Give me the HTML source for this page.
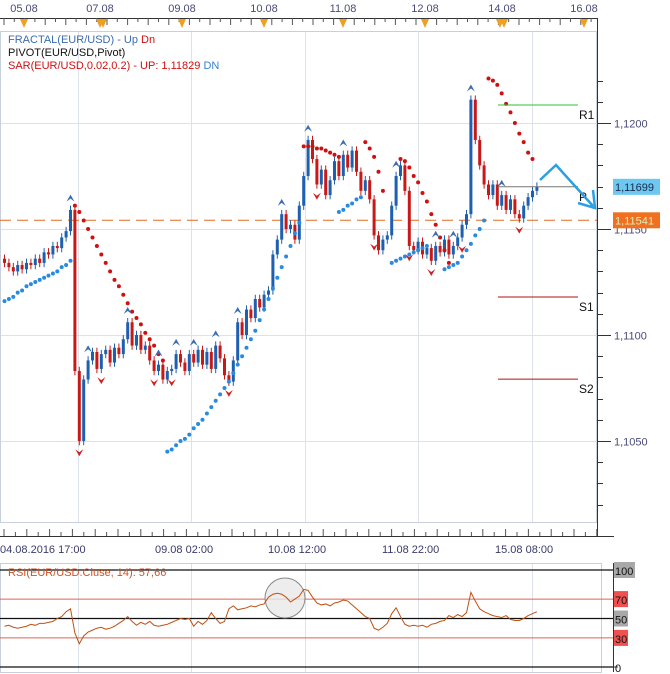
<!DOCTYPE html>
<html><head><meta charset="utf-8"><style>
html,body{margin:0;padding:0;background:#fff;}
svg{display:block;font-family:"Liberation Sans",sans-serif;}
</style></head><body>
<svg id="chart" width="670" height="674" viewBox="0 0 670 674" xmlns="http://www.w3.org/2000/svg">
<g id="static">
  <!-- top date axis -->
  <g font-size="11" fill="#4a4a7a">
    <text x="24" y="12" text-anchor="middle">05.08</text>
    <text x="100" y="12" text-anchor="middle">07.08</text>
    <text x="182" y="12" text-anchor="middle">09.08</text>
    <text x="264" y="12" text-anchor="middle">10.08</text>
    <text x="343" y="12" text-anchor="middle">11.08</text>
    <text x="425" y="12" text-anchor="middle">12.08</text>
    <text x="502" y="12" text-anchor="middle">14.08</text>
    <text x="584" y="12" text-anchor="middle">16.08</text>
  </g>
  <line x1="0" y1="18.5" x2="598" y2="18.5" stroke="#333"/>
  <g id="topticks" stroke="#555"></g>
  <g id="toptri" fill="#f0a020"></g>
  <!-- main frame -->
  <rect x="0.5" y="31.5" width="596" height="491" fill="#fff" stroke="#c8d0dc"/>
  <g id="grid" stroke="#dde2ea"></g>
  <line x1="597.5" y1="18" x2="597.5" y2="537" stroke="#333"/>
  <line x1="0" y1="536.5" x2="614" y2="536.5" stroke="#333"/>
  <g id="bottomticks" stroke="#555"></g>
  <g font-size="11" fill="#3a3a6a">
    <text x="0" y="553">04.08.2016 17:00</text>
    <text x="155" y="553">09.08 02:00</text>
    <text x="268" y="553">10.08 12:00</text>
    <text x="382" y="553">11.08 22:00</text>
    <text x="495" y="553">15.08 08:00</text>
  </g>
  <g id="priceaxis" font-size="11" fill="#4a4a7a"></g>
</g>
<g id="marks"></g>
<g id="legend" font-size="11">
  <text x="8" y="43" fill="#3a6cb0">FRACTAL(EUR/USD) -  Up <tspan fill="#d01010">Dn</tspan></text>
  <text x="8" y="56" fill="#111">PIVOT(EUR/USD,Pivot)</text>
  <text x="8" y="69" fill="#d01010">SAR(EUR/USD,0.02,0.2) -  UP: 1,11829  <tspan fill="#3a80d0">DN</tspan></text>
</g>
<!-- RSI panel -->
<g id="rsipanel">
  <rect x="0.5" y="563.5" width="601" height="109" fill="#fff" stroke="#c8d0dc"/>
  <g id="rsigrid" stroke="#dde2ea"></g>
  <line x1="613.5" y1="563" x2="613.5" y2="672" stroke="#333"/>
  <g id="rsilevels"></g>
  <ellipse cx="285" cy="598" rx="20" ry="20" fill="#e8e8e8" fill-opacity="0.8" stroke="#888"/>
  <text x="8" y="576" font-size="11" fill="#d05020">RSI(EUR/USD.Cluse, 14): 57,66</text>
</g>
</svg>
<script>
// ---- data ----
const closes = [1.1134,1.1132,1.1130,1.1133,1.1131,1.1134,1.1133,1.1136,1.1134,1.1139,1.1138,1.1142,1.1141,1.1146,1.1149,1.1159,1.1083,1.1050,1.1079,1.1088,1.1092,1.1084,1.1091,1.1093,1.1087,1.1094,1.1091,1.1098,1.1106,1.1095,1.1100,1.1093,1.1095,1.1088,1.1083,1.1086,1.1079,1.1083,1.1084,1.1091,1.1087,1.1083,1.1091,1.1087,1.1093,1.1086,1.1092,1.1084,1.1095,1.1089,1.1081,1.1078,1.1088,1.1106,1.1100,1.1112,1.1108,1.1117,1.1113,1.1119,1.1121,1.1138,1.1145,1.1157,1.1150,1.1152,1.1145,1.1161,1.1175,1.1192,1.1183,1.1171,1.1178,1.1166,1.1173,1.1182,1.1175,1.1185,1.1179,1.1187,1.1177,1.1168,1.1173,1.1164,1.1147,1.1140,1.1145,1.1147,1.1161,1.1175,1.1180,1.1168,1.1142,1.1140,1.1144,1.1138,1.1141,1.1135,1.1142,1.1139,1.1145,1.1138,1.1142,1.1146,1.1152,1.1157,1.1211,1.1192,1.1180,1.1171,1.1166,1.1171,1.1161,1.1166,1.1159,1.1164,1.1157,1.1155,1.1161,1.1165,1.1168,1.1170];
const openFirst = 1.1136;
const sarBlue0 = {start:0, values:[1.1116,1.1117,1.1118,1.1120,1.1121,1.1123,1.1124,1.1125,1.1126,1.1127,1.1128,1.1129,1.1130,1.1132,1.1133,1.1135]};
const sarRed1 = {start:16, values:[1.1161,1.1158,1.1154,1.1150,1.1146,1.1142,1.1138,1.1134,1.1130,1.1126,1.1123,1.1119,1.1115,1.1111,1.1108,1.1105,1.1101,1.1098,1.1095,1.1091,1.1088]};
const sarBlue1 = {start:37, values:[1.1045,1.1046,1.1048,1.1050,1.1051,1.1053,1.1056,1.1058,1.1060,1.1063,1.1066,1.1069,1.1072,1.1075,1.1078,1.1082,1.1086,1.1090,1.1094,1.1098,1.1102,1.1107,1.1112,1.1117,1.1122,1.1127,1.1132,1.1137,1.1142,1.1148,1.1153]};
const sarRed2 = {start:68, values:[1.1189,1.1189,1.1189,1.1188,1.1188,1.1187,1.1186,1.1185,1.1184]};
const sarBlue2 = {start:76, values:[1.1158,1.1159,1.1161,1.1162,1.1164,1.1165]};
const sarRed3 = {start:82, values:[1.1191,1.1188,1.1184,1.1177,1.1168]};
const sarBlue3 = {start:88, values:[1.1134,1.1135,1.1136,1.1137,1.1138,1.1139,1.1140,1.1141,1.1142]};
const sarRed4 = {start:90, values:[1.1183,1.1182,1.1179,1.1175,1.1172,1.1167,1.1163,1.1157,1.1152,1.1146,1.1140,1.1134]};
const sarBlue4 = {start:100, values:[1.1131,1.1132,1.1133,1.1134,1.1137,1.1140,1.1143,1.1147,1.1150,1.1154]};
const sarRed5 = {start:110, values:[1.1221,1.1220,1.1218,1.1214,1.1209,1.1205,1.1200,1.1195,1.1191,1.1186,1.1183]};
const fractalUp = [15,19,28,35,39,43,48,53,63,69,77,89,98,102,106,113];
const fractalDn = [17,22,34,38,51,71,84,92,97,104,117];
const pivotNames = ["R1","P","S1","S2"];
const pivotValues = [1.12085,1.11699,1.11179,1.10792];
const priceTicks = [1.1200,1.1150,1.1100,1.1050];
const priceTickLabels = ["1,1200","1,1150","1,1100","1,1050"];
const lastPrice = 1.11699;
const refPrice = 1.11541;
const rsiValues = [42,43,41,40,41,42,44,43,45,45,46,47,50,52,57,60,35,24,32,36,38,40,41,39,40,42,45,48,52,47,43,46,44,47,43,42,43,44,46,48,50,49,50,42,47,44,48,56,50,45,47,60,63,59,60,61,63,62,64,65,72,75,76,75,72,67,70,73,80,79,72,66,64,65,63,66,67,69,68,64,60,56,52,50,40,38,41,45,55,61,52,44,42,43,42,43,41,44,45,47,48,53,51,54,52,56,77,68,60,57,55,53,52,51,53,49,48,48,50,53,55,57];
const rsiLevels = [100,70,50,30,0];

// ---- scales ----
const NS="http://www.w3.org/2000/svg";
function xOf(i){return 3+i*4.4;}
function yOf(p){return 123+(1.12-p)*21200;}
function rsiY(v){return 667-v*0.97;}
function mk(tag,attrs,parent){const e=document.createElementNS(NS,tag);for(const k in attrs)e.setAttribute(k,attrs[k]);parent.appendChild(e);return e;}
const marks=document.getElementById('marks');

// ticks & grid
const tt=document.getElementById('topticks');
for(let x=4;x<598;x+=10.3){mk('line',{x1:x,y1:18,x2:x,y2:(Math.round(x/10.3)%2?22:25)},tt);}
const tri=document.getElementById('toptri');
[24,100,103,182,264,343,425,500,504,584].forEach(x=>{const t=mk('polygon',{points:`${x-4},19 ${x+4},19 ${x},28`},tri);

});
const bt=document.getElementById('bottomticks');
for(let x=4;x<598;x+=11.4){mk('line',{x1:x,y1:536,x2:x,y2:(Math.round(x/11.4)%2?532:529)},bt);}
const grid=document.getElementById('grid'), rg=document.getElementById('rsigrid');
[78,191,305,418,532].forEach(x=>{mk('line',{x1:x+.5,y1:32,x2:x+.5,y2:522},grid);mk('line',{x1:x+.5,y1:564,x2:x+.5,y2:672},rg);});
const pa=document.getElementById('priceaxis');
priceTicks.forEach((p,k)=>{const y=Math.round(yOf(p))+.5;mk('line',{x1:1,y1:y,x2:597,y2:y},grid);
mk('line',{x1:597,y1:y,x2:611,y2:y,stroke:'#333'},pa);
const t=mk('text',{x:614,y:y+4},pa);t.textContent=priceTickLabels[k];

});
for(let p=1.1010;p<1.1225;p+=0.001){const y=Math.round(yOf(p))+.5;if(y>32&&y<522)mk('line',{x1:597,y1:y,x2:603,y2:y,stroke:'#333'},pa);}

// reference dashed line
const ry=yOf(refPrice);
const rl=mk('line',{x1:0,y1:ry,x2:597,y2:ry,stroke:'#e06a20','stroke-dasharray':'11,6'},marks);



// candles
let prev=openFirst;
closes.forEach((c,i)=>{const o=prev;prev=c;const x=xOf(i);
const hi=Math.max(o,c)+0.0002, lo=Math.min(o,c)-0.0002;const col=c>=o?'#1f5fb0':'#c81818';
const g=mk('g',{},marks);


mk('line',{x1:x+1.5,y1:yOf(hi),x2:x+1.5,y2:yOf(lo),stroke:col,'stroke-width':1},g);
const top=yOf(Math.max(o,c)),bot=yOf(Math.min(o,c));
mk('rect',{x:x,y:top,width:3,height:Math.max(1,bot-top),fill:col},g);});

// SAR
[[sarBlue0,'#2a8ae0'],[sarRed1,'#d01010'],[sarBlue1,'#2a8ae0'],[sarRed2,'#d01010'],[sarBlue2,'#2a8ae0'],[sarRed3,'#d01010'],[sarBlue3,'#2a8ae0'],[sarRed4,'#d01010'],[sarBlue4,'#2a8ae0'],[sarRed5,'#d01010']].forEach(([s,col])=>{
s.values.forEach((v,k)=>{const d=mk('circle',{cx:xOf(s.start+k)+1.5,cy:yOf(v),r:2,fill:col},marks);

});});

// fractals
function candleHL(i){const o=i===0?openFirst:closes[i-1];return [Math.max(o,closes[i])+0.0002,Math.min(o,closes[i])-0.0002];}
fractalUp.forEach(i=>{const x=xOf(i)+1.5,y=yOf(candleHL(i)[0])-4;
const f=mk('path',{d:`M${x-4},${y} L${x},${y-7} L${x+4},${y} L${x},${y-3} Z`,fill:'#3a6cb0'},marks);

});
fractalDn.forEach(i=>{const x=xOf(i)+1.5,y=yOf(candleHL(i)[1])+4;
const f=mk('path',{d:`M${x-4},${y} L${x},${y+7} L${x+4},${y} L${x},${y+3} Z`,fill:'#d02020'},marks);

});

// pivots
const pcol=['#30c030','#777','#b01010','#b01010'];
pivotValues.forEach((p,k)=>{const y=yOf(p);
const l=mk('line',{x1:498,y1:y,x2:578,y2:y,stroke:pcol[k]},marks);


const t=mk('text',{x:579,y:y+14,'font-size':12,fill:'#111'},marks);t.textContent=pivotNames[k];

});

// forecast arrow
const ar=mk('path',{d:'M540,180 L556,165 L593,206 M578,203 L595,208 L593,190',fill:'none',stroke:'#2aa0e0','stroke-width':2.5},marks);



// price boxes
function box(p,bg,fg,name){const y=yOf(p);const g=mk('g',{},marks);


mk('rect',{x:613,y:y-8,width:47,height:16,fill:bg},g);
const t=mk('text',{x:615,y:y+4,'font-size':11,fill:fg},g);t.textContent=p.toFixed(5).replace('.',',');}
box(lastPrice,'#6cc8f0','#1a2a4a','last-price-label');
box(refPrice,'#f07020','#d8f0c0','reference-price-label');

// RSI
const rl2=document.getElementById('rsilevels');
rsiLevels.forEach(v=>{const y=rsiY(v);const red=(v===70||v===30);
const l=mk('line',{x1:0,y1:y,x2:613,y2:y,stroke:red?'#e06050':'#111','stroke-width':red?1:1.3},rl2);


mk('line',{x1:613,y1:y,x2:618,y2:y,stroke:'#333'},rl2);
if(v!==0){mk('rect',{x:614,y:y-8,width:v===100?21:14,height:16,fill:red?'#f05050':'#a8a8a8'},rl2);}
const t=mk('text',{x:615,y:y+5,'font-size':11,fill:'#111'},rl2);t.textContent=v;

});
const rp=mk('polyline',{points:rsiValues.map((v,i)=>`${xOf(i)+1.5},${rsiY(v)}`).join(' '),fill:'none',stroke:'#c05010','stroke-width':1},document.getElementById('rsipanel'));


</script>
</body></html>
